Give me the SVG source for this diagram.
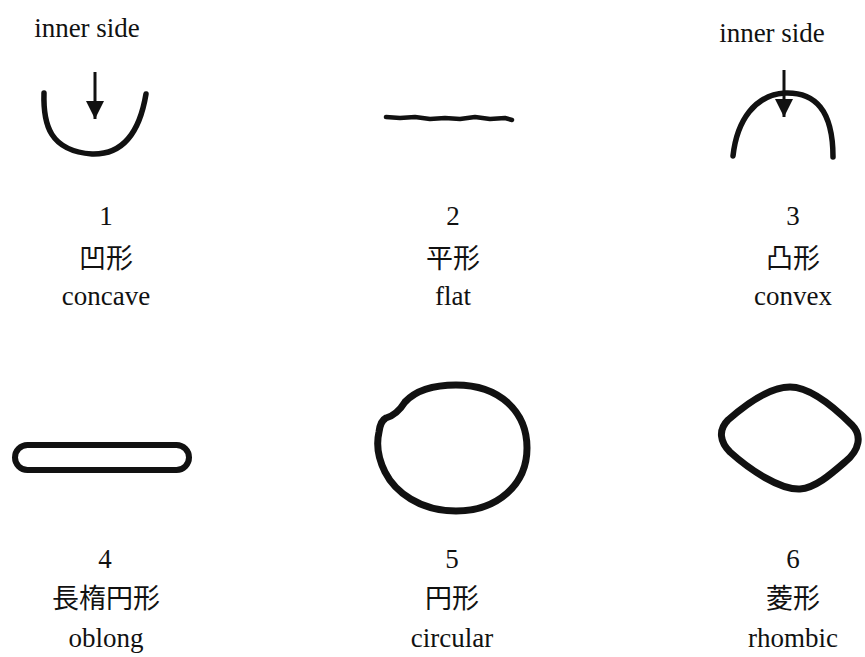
<svg xmlns="http://www.w3.org/2000/svg" width="865" height="657" viewBox="0 0 865 657">
<defs>
<style>
.t{font-family:"Liberation Serif","Noto Sans CJK JP",serif;font-size:27px;fill:#111;text-anchor:middle}
.s{fill:none;stroke:#111;stroke-linecap:round;stroke-linejoin:round}
.a{stroke:#111;stroke-width:3}
</style>
<marker id="ah" viewBox="0 0 10 10" refX="10" refY="5" markerWidth="6" markerHeight="6" markerUnits="strokeWidth" orient="auto">
<path d="M0,0 L10,5 L0,10 Z" fill="#111"/>
</marker>
</defs>
<rect width="865" height="657" fill="#fff"/>

<g id="concave">
<text class="t" x="87" y="37">inner side</text>
<path class="s" stroke-width="5.5" d="M44,93 C43,125 50,151 92,154 C125,155 140,130 146,94"/>
<line class="a" x1="95" y1="72" x2="95" y2="119" marker-end="url(#ah)"/>
<text class="t" x="106" y="225">1</text>
<text class="t" x="106" y="268">凹形</text>
<text class="t" x="106" y="305">concave</text>
</g>

<g id="flat">
<path class="s" stroke-width="4.5" d="M386,117 L400,118 L415,117 L430,119 L445,118 L460,119 L475,117 L490,119 L505,118 L512,120"/>
<text class="t" x="453" y="225">2</text>
<text class="t" x="453" y="268">平形</text>
<text class="t" x="453" y="305">flat</text>
</g>

<g id="convex">
<text class="t" x="772" y="42">inner side</text>
<path class="s" stroke-width="5.5" d="M733,156 C737,120 755,95 785,93 C815,92 833,110 833,157"/>
<line class="a" x1="784" y1="70" x2="784" y2="117" marker-end="url(#ah)"/>
<text class="t" x="793" y="225">3</text>
<text class="t" x="793" y="268">凸形</text>
<text class="t" x="793" y="305">convex</text>
</g>

<g id="oblong">
<rect class="s" stroke-width="6" x="15" y="445" width="174" height="25" rx="12.5"/>
<text class="t" x="105" y="568">4</text>
<text class="t" x="106" y="608">長楕円形</text>
<text class="t" x="106" y="647">oblong</text>
</g>

<g id="circular">
<path class="s" stroke-width="7" d="M386,418 C393,416 400,410 405,402 C418,388 437,385 456,385 C500,385 527,412 527,448 C527,485 497,511 456,511 C420,511 395,492 385,472 C378,458 376,445 379,432 C380,424 382,420 386,418 Z"/>
<text class="t" x="452" y="568">5</text>
<text class="t" x="452" y="608">円形</text>
<text class="t" x="452" y="647">circular</text>
</g>

<g id="rhombic">
<path class="s" stroke-width="7" d="M790,387 C770,387 745,405 728,420 C718,430 720,442 730,452 C750,470 780,490 800,489 C815,488 830,475 845,462 C860,450 862,435 852,425 C835,408 810,387 790,387 Z"/>
<text class="t" x="793" y="568">6</text>
<text class="t" x="793" y="608">菱形</text>
<text class="t" x="793" y="647">rhombic</text>
</g>
</svg>
